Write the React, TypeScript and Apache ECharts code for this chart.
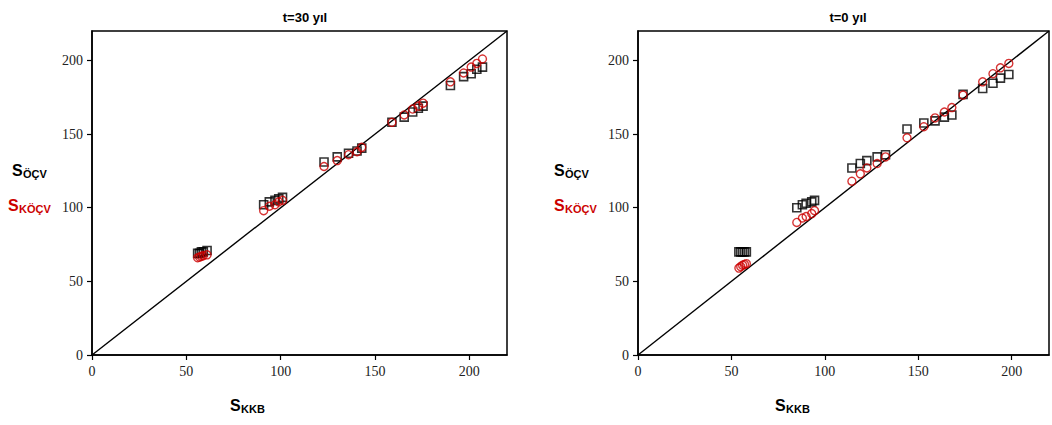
import React, { useEffect, useRef } from "react";
import * as echarts from "echarts";

// t=30 yıl (left panel)
const left_kkb = [56, 57, 58, 59, 61, 91, 94, 97, 99, 101, 123, 130, 136, 140.5, 143, 159, 165.5, 170, 173, 175.5, 190, 197, 201, 204, 207];
const left_ocv = [69, 69, 70, 70, 71, 102, 104, 105, 106, 107, 131, 134.5, 137, 138.5, 140.5, 158, 161.5, 165, 167.5, 169, 183, 189, 191, 194, 195.5];
const left_kocv = [66, 66.5, 67, 67.5, 68, 98, 101, 102, 104, 105, 128, 132, 136, 138, 141, 158, 163, 167, 169, 171, 185.5, 191.5, 195.5, 198, 201];

// t=0 yıl (right panel)
const right_kkb = [54, 55, 56, 57, 58, 85, 88, 90, 93, 94.5, 114.5, 119, 122.5, 128, 132.5, 144, 153, 159, 164, 168, 174, 184.5, 190, 194, 198.5];
const right_ocv = [70, 70, 70, 70, 70, 100, 102, 103, 104, 105, 127, 130, 132, 134.5, 136, 153.5, 157.5, 159, 161.5, 163, 177, 181, 184.5, 188, 190.5];
const right_kocv = [59, 60, 61, 61.5, 62, 90, 93, 94, 96, 98, 118, 123, 127, 130, 134.5, 147.5, 155, 161, 165, 168, 176.5, 185.5, 191, 195, 198];

const diagonal = [[0, 0], [220, 220]];
const axisMax = 220;
const tickStep = 50;
const titles = ["t=30 yıl", "t=0 yıl"];

const RED = "#cc0000";
const SERIF = "Liberation Serif";
const SANS = "Liberation Sans";

function pairs(xs: number[], ys: number[]) {
  return xs.map((x, i) => [x, ys[i]]);
}

export default function App() {
  const ref = useRef<HTMLDivElement>(null);
  useEffect(() => {
    if (!ref.current) return;
    const chart = echarts.init(ref.current, null, { renderer: "svg" });
    const grids = [
      { left: 92, top: 31, width: 415, height: 324 },
      { left: 638, top: 31, width: 411, height: 324 },
    ];
    const axisCommon = (gi: number) => ({
      gridIndex: gi,
      type: "value",
      min: 0,
      max: axisMax,
      interval: tickStep,
      splitLine: { show: false },
      axisLine: { show: true, lineStyle: { color: "#000", width: 1.5 } },
      axisTick: { show: true, inside: false, length: 5, lineStyle: { color: "#000", width: 1.2 } },
      axisLabel: {
        color: "#222",
        fontFamily: SERIF,
        fontSize: 14,
        margin: 9,
        showMaxLabel: false,
      },
    });
    const subLabel = (x: number, y: number, main: string, sub: string, color: string, subDx: number) => [
      {
        type: "text",
        left: x,
        top: y,
        style: { text: main, fill: color, fontFamily: SANS, fontWeight: "bold", fontSize: 16 },
      },
      {
        type: "text",
        left: x + subDx,
        top: y + 6,
        style: { text: sub, fill: color, fontFamily: SANS, fontWeight: "bold", fontSize: 11 },
      },
    ];
    const option: any = {
      animation: false,
      backgroundColor: "#fff",
      title: [
        {
          text: titles[0],
          left: 300,
          top: 6,
          textAlign: "center",
          textStyle: { fontFamily: SANS, fontWeight: "bold", fontSize: 13, color: "#000" },
        },
        {
          text: titles[1],
          left: 843,
          top: 6,
          textAlign: "center",
          textStyle: { fontFamily: SANS, fontWeight: "bold", fontSize: 13, color: "#000" },
        },
      ],
      grid: grids.map((g) => ({ ...g, show: true, borderColor: "#000", borderWidth: 1.5, backgroundColor: "transparent" })),
      xAxis: [axisCommon(0), axisCommon(1)],
      yAxis: [axisCommon(0), axisCommon(1)],
      series: [0, 1].flatMap((gi) => {
        const kkb = gi === 0 ? left_kkb : right_kkb;
        const ocv = gi === 0 ? left_ocv : right_ocv;
        const kocv = gi === 0 ? left_kocv : right_kocv;
        return [
          {
            type: "line",
            xAxisIndex: gi,
            yAxisIndex: gi,
            data: diagonal,
            symbol: "none",
            lineStyle: { color: "#000", width: 1.4 },
            silent: true,
            z: 1,
          },
          {
            type: "scatter",
            xAxisIndex: gi,
            yAxisIndex: gi,
            data: pairs(kkb, ocv),
            symbol: "rect",
            symbolSize: 8,
            itemStyle: { color: "transparent", borderColor: "#000", borderWidth: 1.6 },
            z: 2,
          },
          {
            type: "scatter",
            xAxisIndex: gi,
            yAxisIndex: gi,
            data: pairs(kkb, kocv),
            symbol: "circle",
            symbolSize: 8,
            itemStyle: { color: "transparent", borderColor: RED, borderWidth: 1.4 },
            z: 3,
          },
        ];
      }),
      graphic: [
        ...subLabel(12, 162, "S", "ÖÇV", "#000", 11),
        ...subLabel(8, 197, "S", "KÖÇV", RED, 11),
        ...subLabel(554, 162, "S", "ÖÇV", "#000", 11),
        ...subLabel(554, 197, "S", "KÖÇV", RED, 11),
        ...subLabel(230, 397, "S", "KKB", "#000", 11),
        ...subLabel(775, 397, "S", "KKB", "#000", 11),
      ],
    };
    chart.setOption(option);
    return () => chart.dispose();
  }, []);
  return (
    <div
      ref={ref}
      style={{ position: "fixed", left: 0, top: 0, width: 1052, height: 425, background: "#fff" }}
    />
  );
}
